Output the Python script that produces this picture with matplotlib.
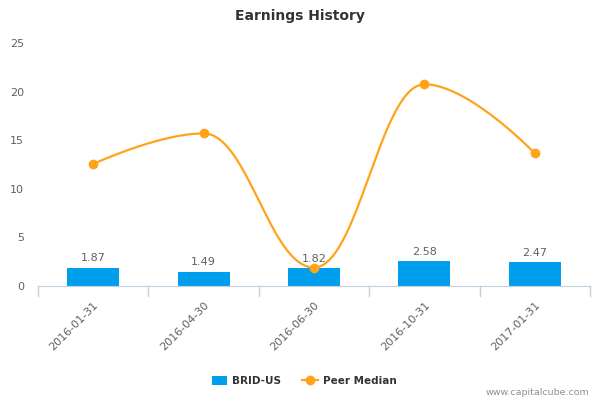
import numpy as np
import matplotlib
matplotlib.use("Agg")
import matplotlib.pyplot as plt
from matplotlib.lines import Line2D
from matplotlib.patches import Patch

dates = ["2016-01-31", "2016-04-30", "2016-06-30", "2016-10-31", "2017-01-31"]
brid_eps = [1.87, 1.49, 1.82, 2.58, 2.47]
peer_median = [12.55, 15.7, 1.9, 20.75, 13.65]
y_ticks = [0, 5, 10, 15, 20, 25]

BAR_COLOR = "#009FEE"
LINE_COLOR = "#FFA319"
TEXT_GREY = "#606060"


def spline(xs, ys, smoothing=1.5, steps=40):
    """Highcharts-style spline through the points, as cubic beziers."""
    n = len(xs)
    denom = smoothing + 1
    left = [(xs[i], ys[i]) for i in range(n)]
    right = [(xs[i], ys[i]) for i in range(n)]
    for i in range(1, n - 1):
        px, py = xs[i], ys[i]
        lx, ly = xs[i - 1], ys[i - 1]
        nx, ny = xs[i + 1], ys[i + 1]
        lcx = (smoothing * px + lx) / denom
        lcy = (smoothing * py + ly) / denom
        rcx = (smoothing * px + nx) / denom
        rcy = (smoothing * py + ny) / denom
        corr = (rcy - lcy) * (rcx - px) / (rcx - lcx) + py - rcy
        lcy += corr
        rcy += corr
        if lcy > ly and lcy > py:
            lcy = max(ly, py)
            rcy = 2 * py - lcy
        elif lcy < ly and lcy < py:
            lcy = min(ly, py)
            rcy = 2 * py - lcy
        if rcy > ny and rcy > py:
            rcy = max(ny, py)
            lcy = 2 * py - rcy
        elif rcy < ny and rcy < py:
            rcy = min(ny, py)
            lcy = 2 * py - rcy
        left[i] = (lcx, lcy)
        right[i] = (rcx, rcy)
    t = np.linspace(0, 1, steps)
    cx, cy = [], []
    for i in range(n - 1):
        p0 = np.array([xs[i], ys[i]])
        p1 = np.array(right[i])
        p2 = np.array(left[i + 1])
        p3 = np.array([xs[i + 1], ys[i + 1]])
        pts = ((1 - t) ** 3)[:, None] * p0 + (3 * (1 - t) ** 2 * t)[:, None] * p1 \
            + (3 * (1 - t) * t ** 2)[:, None] * p2 + (t ** 3)[:, None] * p3
        cx.extend(pts[:, 0])
        cy.extend(pts[:, 1])
    return cx, cy


fig = plt.figure(figsize=(6, 4), dpi=100)
ax = fig.add_axes([0.0633, 0.285, 0.92, 0.6075])

x = np.arange(len(dates))
ax.bar(x, brid_eps, width=0.47, color=BAR_COLOR, zorder=2)
for xi, v in zip(x, brid_eps):
    ax.text(xi, v + 0.45, f"{v:.2f}", ha="center", va="bottom",
            fontsize=8, color=TEXT_GREY, zorder=4)

sx, sy = spline(list(x), peer_median)
ax.plot(sx, sy, color=LINE_COLOR, lw=1.6, zorder=3)
ax.plot(x, peer_median, "o", color=LINE_COLOR, ms=6, zorder=3)

ax.set_xlim(-0.5, len(dates) - 0.5)
ax.set_ylim(0, 25)
ax.set_yticks(y_ticks)
ax.set_yticklabels([str(v) for v in y_ticks])
ax.set_xticks(x)
ax.set_xticklabels(dates, rotation=45, ha="right", rotation_mode="anchor")
ax.tick_params(axis="x", length=0, pad=10, labelsize=8, labelcolor=TEXT_GREY)
ax.tick_params(axis="y", length=0, pad=10, labelsize=8, labelcolor=TEXT_GREY)

for side in ("top", "right", "left"):
    ax.spines[side].set_visible(False)
ax.spines["bottom"].set_color("#C0D0E0")

# category boundary ticks under the axis
for b in np.arange(-0.5, len(dates), 1.0):
    ax.plot([b, b], [0, -1.0], color="#C0D0E0", lw=1, clip_on=False)

fig.text(0.5, 0.96, "Earnings History", ha="center", va="center",
         fontsize=10, fontweight="bold", color="#333333")

handles = [
    Patch(facecolor=BAR_COLOR, edgecolor="none"),
    Line2D([0], [0], color=LINE_COLOR, marker="o", ms=6, lw=1.6),
]
fig.legend(handles, ["BRID-US", "Peer Median"], loc="center",
           bbox_to_anchor=(0.507, 0.048), ncol=2, frameon=False,
           prop={"size": 7.5, "weight": "bold"}, labelcolor="#333333",
           handlelength=1.5, handleheight=1.0, columnspacing=2.0,
           handletextpad=0.5)

fig.text(0.982, 0.018, "www.capitalcube.com", ha="right", va="center",
         fontsize=6.8, color="#909090")

fig.savefig("out.png", dpi=100)
